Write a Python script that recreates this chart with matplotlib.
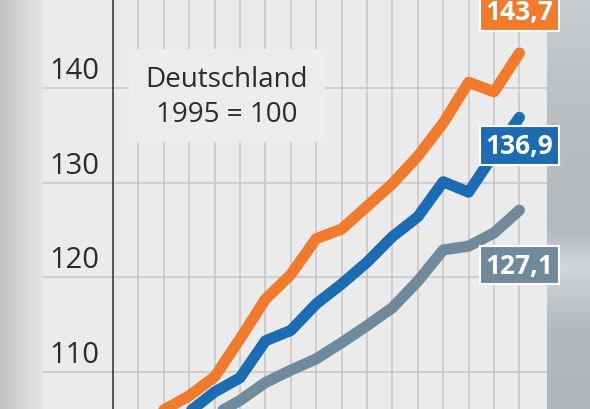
import numpy as np
import matplotlib
matplotlib.use('Agg')
import matplotlib.pyplot as plt
import matplotlib.transforms as mtrans
from matplotlib.patches import Rectangle

# Index values, 1995 = 100
years = list(range(1995, 2012))
orange_vals = [100.0, 103.0, 106.0, 107.5, 109.5, 113.5, 117.7, 120.3, 124.1, 125.1,
               127.5, 129.9, 132.8, 136.3, 140.6, 139.6, 143.7]
blue_vals = [100.0, 101.5, 103.5, 105.8, 107.9, 109.4, 113.3, 114.4, 117.2, 119.3,
             121.6, 124.3, 126.4, 130.1, 129.0, 133.0, 136.9]
gray_vals = [100.0, 101.0, 102.5, 104.0, 105.5, 107.0, 108.9, 110.2, 111.4, 113.1,
             114.9, 116.8, 119.6, 122.9, 123.3, 124.7, 127.1]
y_ticks = [110, 120, 130, 140]
title_text = 'Deutschland\n1995 = 100'

ORANGE = '#f27a2c'
BLUE = '#1b6cb3'
GRAY = '#6f8a9b'
PANEL = '#ececec'
GRID = '#c6c6c6'

plt.rcParams['font.family'] = ['Open Sans', 'DejaVu Sans']

W, H = 590, 410
fig = plt.figure(figsize=(W / 100, H / 100), dpi=100)

# background: grey strip left, light panel, photo-like strip right
img = np.empty((H, W, 3))
xs = np.arange(W)
rows = np.arange(H)
left = 0.76 + 0.14 * np.clip(xs / 43.0, 0, 1)
img[:, :, :] = 0.925
img[:, :43, :] = left[None, :43, None]
prof = np.interp(rows, [0, 120, 230, 268, 282, 330, 410],
                 [0.80, 0.74, 0.72, 0.84, 0.81, 0.72, 0.71])
img[:, 547:, 0] = (prof - 0.012)[:, None]
img[:, 547:, 1] = prof[:, None]
img[:, 547:, 2] = (prof + 0.015)[:, None]
bg = fig.add_axes([0, 0, 1, 1])
bg.imshow(np.clip(img, 0, 1), aspect='auto', extent=(0, W, H, 0))
bg.axis('off')

ax = fig.add_axes([0, 0, 1, 1])
ax.patch.set_alpha(0)
ax.axis('off')

# pixel -> data mapping: x = 113 + 25.4*(year-1995), y = 89 + 9.47*(140-v)
px_year, px_val = 25.4, 9.47
ax.set_xlim(1995 - 113 / px_year, 1995 + (W - 113) / px_year)
ax.set_ylim(140 - (H - 89) / px_val, 140 + 89 / px_val)
ymin, ymax = ax.get_ylim()

# grid
ax.vlines(years[1:], ymin, ymax, color=GRID, lw=1.1, zorder=1)
ax.hlines(y_ticks, 1995 - 70 / px_year, 1995 + 434 / px_year, color=GRID, lw=1.1, zorder=1)

# box behind the title text hides the grid
ax.add_patch(Rectangle((1995 + 16 / px_year, 140 - 54 / px_val), 196 / px_year, 93 / px_val,
                       facecolor=PANEL, edgecolor='none', zorder=2))
ax.text(1995 + 114 / px_year, 140 - 8.5 / px_val, title_text, ha='center', va='center',
        fontsize=20, color='#2b2b2b', linespacing=1.3, zorder=4)

# y axis
ax.axvline(1995, color='#3a3a3a', lw=1.2, zorder=2.5)
lab_tr = mtrans.offset_copy(ax.transData, fig=fig, x=0, y=10, units='dots')
for t in y_ticks:
    ax.text(1995 - 14 / px_year, t, str(t), ha='right', va='baseline', fontsize=21,
            color='#2b2b2b', transform=lab_tr)

# lines
for vals, col in [(gray_vals, GRAY), (blue_vals, BLUE), (orange_vals, ORANGE)]:
    ax.plot(years, vals, color=col, lw=8, solid_capstyle='round',
            solid_joinstyle='round', zorder=3)

# end value labels
label_y = {ORANGE: 148.1, BLUE: 133.9, GRAY: 121.3}
for vals, col in [(orange_vals, ORANGE), (blue_vals, BLUE), (gray_vals, GRAY)]:
    ax.text(years[-1], label_y[col], f'{vals[-1]:.1f}'.replace('.', ','), ha='center',
            va='center', color='white', fontsize=19, fontweight='bold', zorder=5,
            bbox=dict(boxstyle='square,pad=0.22', fc=col, ec='white', lw=1.5))

fig.savefig('out.png', dpi=100)
